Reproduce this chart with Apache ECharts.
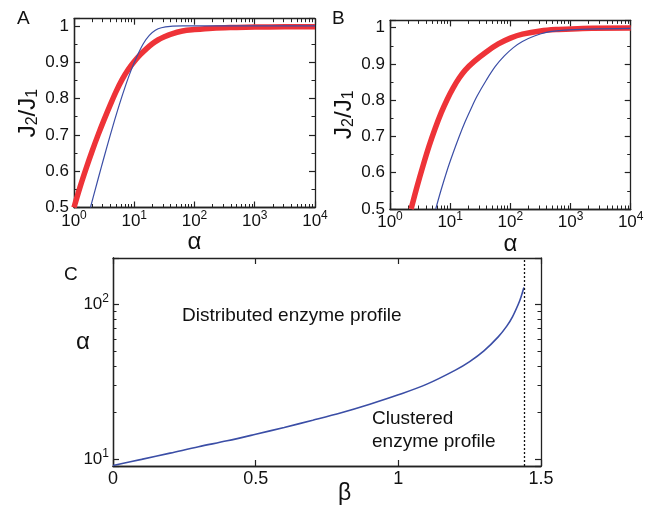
<!DOCTYPE html>
<html><head><meta charset="utf-8">
<script src="https://cdn.jsdelivr.net/npm/echarts@6/dist/echarts.min.js"></script>
<style>html,body{margin:0;padding:0;background:#fff}#c{width:652px;height:508px}</style>
</head><body><div id="c"></div>
<script>
// Panel A: [alpha, J2/J1]
const redA = [[1,0.5],[1.259,0.556],[1.585,0.607],[1.995,0.655],[2.512,0.7],[3.162,0.742],[3.981,0.782],[5.012,0.82],[6.31,0.853],[7.943,0.88],[10,0.902],[12.59,0.921],[15.85,0.937],[19.95,0.951],[25.12,0.962],[31.62,0.97],[39.81,0.977],[63.1,0.986],[100,0.99],[199.5,0.994],[501,0.996],[1000,0.997],[3162,0.998],[10000,0.998]];
const blueA = [[1.875,0.5],[2.239,0.548],[2.818,0.609],[3.548,0.669],[4.467,0.727],[5.623,0.782],[7.079,0.833],[8.913,0.879],[11.22,0.918],[14.13,0.951],[17.78,0.974],[22.39,0.988],[28.18,0.995],[39.81,0.999],[63.1,1.0],[10000,1.0]];
// Panel B: [alpha, J2/J1]
const redB = [[2.239,0.5],[2.818,0.562],[3.548,0.62],[4.467,0.674],[5.623,0.722],[7.079,0.765],[8.913,0.802],[11.22,0.834],[14.13,0.861],[17.78,0.883],[25.12,0.907],[39.81,0.933],[63.1,0.955],[100,0.971],[158.5,0.982],[316.2,0.991],[631,0.995],[1585,0.998],[10000,0.999]];
const blueB = [[5.754,0.5],[7.079,0.553],[8.913,0.607],[11.22,0.655],[14.13,0.7],[17.78,0.741],[22.39,0.778],[28.18,0.812],[39.81,0.855],[56.23,0.893],[79.43,0.922],[112.2,0.945],[158.5,0.962],[251.2,0.977],[398.1,0.987],[794.3,0.993],[1995,0.996],[10000,0.998]];
// Panel C: boundary alpha(beta)
const betaC = [0,0.1,0.2,0.3,0.4,0.5,0.6,0.7,0.8,0.9,1.0,1.1,1.2,1.25,1.3,1.35,1.38,1.4,1.42,1.43,1.44];
const alphaC = [9.06,9.93,10.9,12.0,13.1,14.45,16.0,17.8,19.9,22.6,26.0,30.5,37.6,42.7,50.1,61.7,72.4,83.2,100,112,129];
const asymptoteBeta = 1.438;

const FONT = 'Liberation Sans';
const AX = '#222';
const RED = '#ee3338';
const BLUE = '#3b4ea6';

function pow10(v){
  const e = Math.log10(v);
  if (Math.abs(e - Math.round(e)) > 1e-6) return '';
  return '10{sup|' + Math.round(e) + '}';
}
const supRich = { sup: { fontSize: 12, fontFamily: FONT, color: '#111', verticalAlign: 'bottom', padding: [0,0,11,0] } };
function tickStyle(){ return { show: true, inside: true, length: 6, lineStyle: { color: AX, width: 1.2 } }; }
function noTick(){ return { show: false }; }
function minorLog(){ return { show: true, splitNumber: 9, length: 3.5, lineStyle: { color: AX, width: 1 } }; }
function minorVal(){ return { show: true, splitNumber: 2, length: 3.5, lineStyle: { color: AX, width: 1 } }; }
function axLine(){ return { show: true, onZero: false, lineStyle: { color: AX, width: 1.3 } }; }

function logX(grid, pos, labels, ticks){
  return {
    type: 'log', gridIndex: grid, position: pos, min: 1, max: 10000, logBase: 10,
    axisLine: axLine(), axisTick: ticks ? tickStyle() : noTick(), minorTick: ticks ? minorLog() : { show: false },
    splitLine: { show: false }, minorSplitLine: { show: false },
    axisLabel: labels ? { show: true, formatter: pow10, fontSize: 17, fontFamily: FONT, color: '#111', margin: 2, rich: supRich } : { show: false }
  };
}
function valY(grid, pos, labels, ticks){
  return {
    type: 'value', gridIndex: grid, position: pos, min: 0.5, max: 1.02, interval: 0.1,
    axisLine: axLine(), axisTick: ticks ? tickStyle() : noTick(), minorTick: ticks ? minorVal() : { show: false },
    splitLine: { show: false },
    axisLabel: labels ? { show: true, showMaxLabel: false, fontSize: 17, fontFamily: FONT, color: '#111', margin: 5,
      formatter: v => (Math.abs(v-1)<1e-9 ? '1' : String(Math.round(v*10)/10)) } : { show: false }
  };
}
function betaX(grid, pos, labels, ticks){
  return { type: 'value', gridIndex: grid, position: pos, min: 0, max: 1.5, interval: 0.5,
    axisLine: axLine(), axisTick: ticks ? tickStyle() : noTick(), splitLine: { show: false },
    axisLabel: labels ? { fontSize: 18, fontFamily: FONT, color: '#111', margin: 4, formatter: v => String(v) } : { show: false } };
}
function alphaY(grid, pos, labels, ticks){
  return { type: 'log', gridIndex: grid, position: pos, min: 9, max: 200, logBase: 10,
    axisLine: axLine(), axisTick: ticks ? tickStyle() : noTick(), minorTick: ticks ? minorLog() : { show: false },
    splitLine: { show: false }, minorSplitLine: { show: false },
    axisLabel: labels ? { showMinLabel: false, showMaxLabel: false, fontSize: 17, fontFamily: FONT, color: '#111', margin: 4, formatter: pow10, rich: supRich } : { show: false } };
}
const jName = 'J{sub|2}/J{sub|1}';
const jRich = { sub: { fontSize: 16, fontFamily: FONT, color: '#111', verticalAlign: 'top', padding: [10,0,0,0] } };
const lineCommon = { type: 'line', showSymbol: false, smooth: 0.35 };
const alphaName = { name: 'α', nameLocation: 'middle', nameGap: 22, nameTextStyle: { fontSize: 24, fontFamily: FONT, color: '#111' } };
const jAxisName = { name: jName, nameLocation: 'middle', nameRotate: 90, nameGap: 33, nameTextStyle: { fontSize: 24, fontFamily: FONT, color: '#111', rich: jRich } };

const rectA = { left: 74, top: 18.7, width: 241, height: 188.8 };
const rectB = { left: 390, top: 20.4, width: 240.7, height: 188.6 };
const rectC = { left: 113, top: 258, width: 428, height: 208 };

const option = {
  animation: false,
  backgroundColor: '#fff',
  grid: [ rectA, rectB, rectC,
    Object.assign({}, rectA), Object.assign({}, rectB), Object.assign({}, rectC) ],
  xAxis: [
    Object.assign(logX(0, 'bottom', true, false), alphaName),
    logX(0, 'top', false, true),
    Object.assign(logX(1, 'bottom', true, false), alphaName),
    logX(1, 'top', false, true),
    betaX(2, 'bottom', true, false),
    betaX(2, 'top', false, true),
    // tick-only overlays for the bottom edges
    logX(3, 'bottom', false, true),
    logX(4, 'bottom', false, true),
    betaX(5, 'bottom', false, true)
  ],
  yAxis: [
    Object.assign(valY(0, 'left', true, false), jAxisName),
    valY(0, 'right', false, true),
    Object.assign(valY(1, 'left', true, false), jAxisName),
    valY(1, 'right', false, true),
    alphaY(2, 'left', true, false),
    alphaY(2, 'right', false, true),
    // tick-only overlays for the left edges
    valY(3, 'left', false, true),
    valY(4, 'left', false, true),
    alphaY(5, 'left', false, true)
  ],
  series: [
    Object.assign({ xAxisIndex: 0, yAxisIndex: 0, data: redA, lineStyle: { color: RED, width: 5.5 }, itemStyle: { color: RED } }, lineCommon),
    Object.assign({ xAxisIndex: 0, yAxisIndex: 0, data: blueA, lineStyle: { color: BLUE, width: 1.2 }, itemStyle: { color: BLUE } }, lineCommon),
    Object.assign({ xAxisIndex: 2, yAxisIndex: 2, data: redB, lineStyle: { color: RED, width: 5.5 }, itemStyle: { color: RED } }, lineCommon),
    Object.assign({ xAxisIndex: 2, yAxisIndex: 2, data: blueB, lineStyle: { color: BLUE, width: 1.2 }, itemStyle: { color: BLUE } }, lineCommon),
    Object.assign({ xAxisIndex: 4, yAxisIndex: 4, data: betaC.map((b,i) => [b, alphaC[i]]),
      lineStyle: { color: BLUE, width: 1.6 }, itemStyle: { color: BLUE },
      markLine: { silent: true, symbol: ['none','none'], label: { show: false },
        lineStyle: { color: '#111', type: [2,2], width: 1.3 },
        data: [ { xAxis: asymptoteBeta } ] } }, lineCommon)
  ],
  graphic: [
    { type: 'text', left: 17, top: 9, style: { text: 'A', fontSize: 19, fontFamily: FONT, fill: '#111' } },
    { type: 'text', left: 332, top: 9, style: { text: 'B', fontSize: 19, fontFamily: FONT, fill: '#111' } },
    { type: 'text', left: 64, top: 265, style: { text: 'C', fontSize: 19, fontFamily: FONT, fill: '#111' } },
    { type: 'text', left: 76, top: 330, style: { text: 'α', fontSize: 24, fontFamily: FONT, fill: '#111' } },
    { type: 'text', left: 338, top: 482, style: { text: 'β', fontSize: 23, fontFamily: FONT, fill: '#111' } },
    { type: 'text', left: 182, top: 306, style: { text: 'Distributed enzyme profile', fontSize: 19, fontFamily: FONT, fill: '#111' } },
    { type: 'text', left: 372, top: 409, style: { text: 'Clustered', fontSize: 19, fontFamily: FONT, fill: '#111' } },
    { type: 'text', left: 372, top: 432, style: { text: 'enzyme profile', fontSize: 19, fontFamily: FONT, fill: '#111' } }
  ]
};
const chart = echarts.init(document.getElementById('c'), null, { renderer: 'canvas' });
chart.setOption(option);
</script></body></html>
